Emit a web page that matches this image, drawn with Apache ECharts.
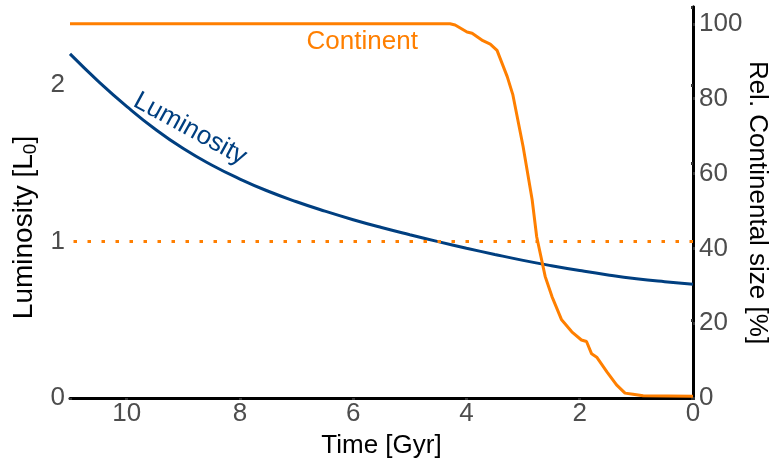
<!DOCTYPE html>
<html><head><meta charset="utf-8">
<script src="https://cdn.jsdelivr.net/npm/echarts@6/dist/echarts.min.js"></script>
<style>html,body{margin:0;padding:0;background:#fff}#c{width:774px;height:463px}</style>
</head><body><div id="c"></div>
<script>
// Luminosity curve (time in Gyr, luminosity in L0)
const lumTime   = [0, 0.5, 1, 1.5, 2, 2.5, 3, 3.5, 4, 4.5, 5, 5.5, 6, 6.5, 7, 7.5, 8, 8.5, 9, 9.5, 10, 10.5, 11];
const lumValues = [0.728, 0.744, 0.763, 0.787, 0.815, 0.846, 0.88, 0.918, 0.958, 1.0, 1.044, 1.09, 1.14, 1.195, 1.255, 1.322, 1.40, 1.49, 1.595, 1.72, 1.865, 2.025, 2.2];
// Relative continental size (time in Gyr, %)
const contTime   = [0, 0.88, 1.06, 1.2, 1.35, 1.52, 1.70, 1.79, 1.88, 1.97, 2.14, 2.32, 2.49, 2.61, 2.76, 2.84, 3.0, 3.18, 3.28, 3.46, 3.58, 3.71, 3.90, 3.99, 4.20, 4.29, 11];
const contValues = [0.5, 0.6, 1.0, 1.3, 3.5, 7.0, 10.9, 11.8, 15.1, 15.5, 17.7, 20.9, 27.1, 32.5, 43.1, 53.0, 67.2, 81.0, 85.9, 92.9, 94.6, 95.5, 97.5, 97.8, 99.7, 100, 100];
// Reference level (present-day luminosity)
const refLuminosity = 1;
// Axis settings
const xRange = [0, 11];
const xTickStep = 2;
const lumRange = [0, 2.5];
const lumTickStep = 0.5;
const contRange = [0, 104.5];
const contTickStep = 20;
const contTicks = [0, 20, 40, 60, 80, 100];
// Annotation anchors in data coordinates
const lumLabelAt = [8.88, 1.72];
const contLabelAt = [5.84, 95.2];

const FONT = 'Liberation Sans, Arial, sans-serif';
const ORANGE = '#ff7f00';
const BLUE = '#003f80';
const TICKCOL = '#4d4d4d';

const chart = echarts.init(document.getElementById('c'), null, {renderer: 'canvas'});
const lumData = lumTime.map((t, i) => [t, lumValues[i]]);
const contData = contTime.map((t, i) => [t, contValues[i]]);

const axisLineStyle = {show: true, lineStyle: {color: '#000', width: 3}};
const tickStyle = {show: true, length: 2, inside: false, lineStyle: {color: '#333', width: 3}};

chart.setOption({
  animation: false,
  backgroundColor: '#fff',
  grid: {left: 70, right: 81, top: 7, bottom: 65, containLabel: false, outerBoundsMode: 'none'},
  xAxis: {
    type: 'value', min: xRange[0], max: xRange[1], interval: xTickStep, inverse: true,
    name: 'Time [Gyr]', nameLocation: 'middle', nameGap: 35, nameMoveOverlap: false,
    nameTextStyle: {color: '#000', fontSize: 26, fontFamily: FONT},
    axisLine: axisLineStyle, axisTick: tickStyle, splitLine: {show: false},
    axisLabel: {color: TICKCOL, fontSize: 26, fontFamily: FONT, margin: 3,
      formatter: v => (v % xTickStep === 0 ? String(v) : '')}
  },
  yAxis: [{
    type: 'value', min: lumRange[0], max: lumRange[1], interval: lumTickStep, position: 'left',
    name: 'Luminosity [L{sub|0}]', nameLocation: 'middle', nameGap: 30, nameRotate: 90, nameMoveOverlap: false,
    nameTextStyle: {color: '#000', fontSize: 28, fontFamily: FONT, padding: [0, 50, 0, 0],
      rich: {sub: {fontSize: 19, fontFamily: FONT, color: '#000', verticalAlign: 'bottom', padding: [13, 0, 0, 0]}}},
    axisLine: axisLineStyle, axisTick: tickStyle, splitLine: {show: false},
    axisLabel: {color: TICKCOL, fontSize: 26, fontFamily: FONT, margin: 5,
      formatter: v => (Math.abs(v - Math.round(v)) < 1e-9 ? String(Math.round(v)) : '')}
  }, {
    type: 'value', min: contRange[0], max: contRange[1], interval: contTickStep, position: 'right',
    name: 'Rel. Continental size [%]', nameLocation: 'middle', nameGap: 51, nameRotate: -90, nameMoveOverlap: false,
    nameTextStyle: {color: '#000', fontSize: 26, fontFamily: FONT},
    axisLine: axisLineStyle,
    axisTick: Object.assign({}, tickStyle, {customValues: contTicks}),
    splitLine: {show: false},
    axisLabel: {color: TICKCOL, fontSize: 26, fontFamily: FONT, margin: 6, customValues: contTicks,
      formatter: v => String(v)}
  }],
  series: [{
    name: 'Luminosity', type: 'line', xAxisIndex: 0, yAxisIndex: 0,
    data: lumData, showSymbol: false, smooth: true,
    lineStyle: {color: BLUE, width: 3}, z: 3,
    markLine: {
      silent: true, symbol: 'none', label: {show: false},
      lineStyle: {color: ORANGE, width: 3, type: [3.5, 10.5], cap: 'butt'},
      data: [{yAxis: refLuminosity}]
    }
  }, {
    name: 'Continent', type: 'line', xAxisIndex: 0, yAxisIndex: 1,
    data: contData, showSymbol: false, smooth: false,
    lineStyle: {color: ORANGE, width: 3}, z: 4
  }]
});

const pL = chart.convertToPixel({seriesIndex: 0}, lumLabelAt);
const pC = chart.convertToPixel({seriesIndex: 1}, contLabelAt);
chart.setOption({
  graphic: [{
    type: 'text', x: pL[0], y: pL[1], rotation: -0.5,
    style: {text: 'Luminosity', fill: BLUE, font: '26px ' + FONT, align: 'center', verticalAlign: 'middle'}
  }, {
    type: 'text', x: pC[0], y: pC[1],
    style: {text: 'Continent', fill: ORANGE, font: '26px ' + FONT, align: 'center', verticalAlign: 'middle'}
  }]
});
</script>
</body></html>
